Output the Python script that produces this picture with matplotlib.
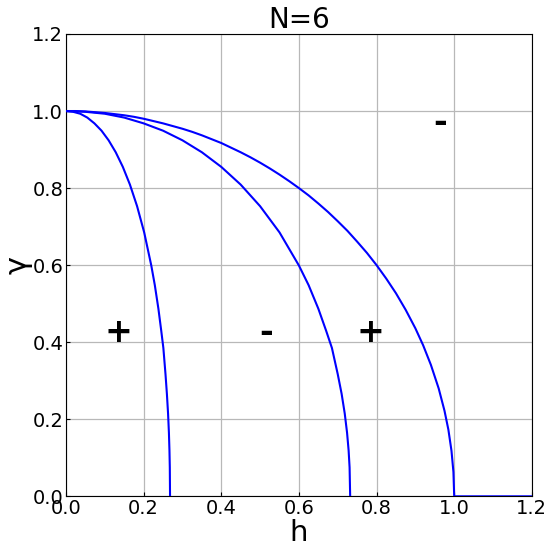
import matplotlib
matplotlib.use("Agg")
import matplotlib.pyplot as plt

# Curve readings (h, gamma)
inner_h = [0.0, 0.0183, 0.0366, 0.0549, 0.0732, 0.0915, 0.1098, 0.1281, 0.1464, 0.1647, 0.1831,
           0.2014, 0.2197, 0.2288, 0.2380, 0.2453, 0.2508, 0.2563, 0.2599, 0.2629, 0.2651,
           0.2665, 0.2674, 0.268]
inner_g = [1.0, 0.998, 0.993, 0.983, 0.968, 0.949, 0.924, 0.893, 0.855, 0.809, 0.753,
           0.685, 0.599, 0.548, 0.487, 0.430, 0.385, 0.317, 0.266, 0.215, 0.165,
           0.119, 0.075, 0.0]

middle_h = [0.0, 0.05, 0.1, 0.15, 0.2, 0.25, 0.3, 0.35, 0.4, 0.45, 0.5, 0.55, 0.6, 0.625,
            0.65, 0.67, 0.685, 0.70, 0.71, 0.718, 0.724, 0.728, 0.7305, 0.732]
middle_g = [1.0, 0.998, 0.993, 0.983, 0.968, 0.949, 0.924, 0.893, 0.855, 0.809, 0.753,
            0.685, 0.599, 0.548, 0.487, 0.430, 0.385, 0.317, 0.266, 0.215, 0.165, 0.119,
            0.075, 0.0]

outer_h = [0.0, 0.025, 0.05, 0.075, 0.1, 0.125, 0.15, 0.175, 0.2, 0.225, 0.25, 0.275, 0.3,
           0.325, 0.35, 0.375, 0.4, 0.425, 0.45, 0.475, 0.5, 0.525, 0.55, 0.575, 0.6, 0.625,
           0.65, 0.675, 0.7, 0.725, 0.75, 0.775, 0.8, 0.825, 0.85, 0.875, 0.9, 0.92, 0.94,
           0.96, 0.975, 0.985, 0.993, 0.998, 1.0, 1.2]
outer_g = [1.0, 1.0, 0.999, 0.997, 0.995, 0.992, 0.989, 0.985, 0.980, 0.974, 0.968, 0.961,
           0.954, 0.946, 0.937, 0.927, 0.917, 0.905, 0.893, 0.880, 0.866, 0.851, 0.835,
           0.818, 0.800, 0.781, 0.760, 0.738, 0.714, 0.689, 0.661, 0.632, 0.600, 0.565,
           0.527, 0.484, 0.436, 0.392, 0.341, 0.280, 0.222, 0.173, 0.118, 0.063, 0.0, 0.0]

sign_labels = ["+", "-", "+", "-"]
sign_h = [0.134, 0.515, 0.783, 0.964]
sign_g = [0.424, 0.424, 0.424, 0.97]

x_ticks = [0.0, 0.2, 0.4, 0.6, 0.8, 1.0, 1.2]
y_ticks = [0.0, 0.2, 0.4, 0.6, 0.8, 1.0, 1.2]

fig = plt.figure(figsize=(5.5, 5.48), dpi=100)
ax = fig.add_axes([0.12, 0.0943, 0.847, 0.8437])

for hh, gg in [(inner_h, inner_g), (middle_h, middle_g), (outer_h, outer_g)]:
    ax.plot(hh, gg, color="#0000ff", lw=1.5, zorder=3)

for s, x, y in zip(sign_labels, sign_h, sign_g):
    ax.text(x, y, s, fontsize=24, fontweight="bold", ha="center", va="center")

ax.set_xlim(0, 1.2)
ax.set_ylim(0, 1.2)
ax.set_xticks(x_ticks)
ax.set_yticks(y_ticks)
ax.set_xticklabels([f"{v:.1f}" for v in x_ticks])
ax.set_yticklabels([f"{v:.1f}" for v in y_ticks])
ax.tick_params(direction="in", length=3, labelsize=14, pad=2)
ax.grid(True, color="#b8b8b8", lw=0.9)
ax.set_axisbelow(True)
ax.set_xlabel("h", fontsize=21, labelpad=1)
ax.set_ylabel("γ", fontsize=22, labelpad=0)
ax.set_title("N=6", fontsize=20, pad=4)

fig.savefig("out.png", dpi=100)
